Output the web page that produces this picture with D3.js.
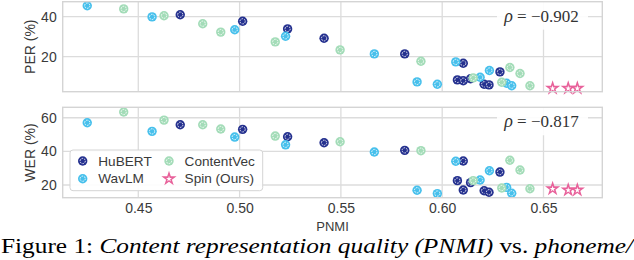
<!DOCTYPE html>
<html><head><meta charset="utf-8">
<script src="https://cdn.jsdelivr.net/npm/d3@7"></script>
<style>
html,body{margin:0;padding:0;background:#fff;}
svg{display:block;}
</style></head>
<body>
<svg id="chart" width="634" height="260"></svg>
<script>
// ---- data ----
const hubertPNMI = [0.4707, 0.5015, 0.5237, 0.5417, 0.5815, 0.6104, 0.6075, 0.6104, 0.6140, 0.6285, 0.6207, 0.6231];
const hubertPER  = [41.0, 37.7, 33.9, 29.2, 21.4, 16.7, 8.4, 8.0, 9.0, 12.4, 6.2, 5.9];
const hubertWER  = [55.8, 53.1, 48.7, 45.1, 40.6, 34.3, 22.6, 17.0, 21.4, 27.7, 16.6, 15.7];

const wavlmPNMI = [0.4248, 0.4568, 0.4976, 0.5227, 0.5665, 0.5876, 0.5976, 0.6067, 0.6187, 0.6233, 0.6318, 0.6343];
const wavlmPER  = [45.5, 39.9, 33.5, 30.2, 21.4, 7.4, 6.2, 17.4, 9.7, 13.1, 6.7, 5.5];
const wavlmWER  = [57.0, 51.9, 48.5, 43.9, 39.6, 16.9, 14.9, 34.1, 23.0, 28.5, 18.6, 15.1];

const contentvecPNMI = [0.4428, 0.4627, 0.4818, 0.4907, 0.5176, 0.5496, 0.5895, 0.6153, 0.6334, 0.6384, 0.6294, 0.6433];
const contentvecPER  = [43.9, 40.5, 36.5, 32.3, 27.4, 23.4, 17.7, 9.4, 14.6, 11.6, 7.2, 5.5];
const contentvecWER  = [63.4, 58.6, 55.8, 53.3, 49.1, 45.7, 40.4, 22.6, 34.7, 28.9, 18.2, 17.8];

const spinPNMI = [0.6545, 0.6622, 0.6667];
const spinPER  = [4.2, 4.2, 4.2];
const spinWER  = [17.8, 17.0, 17.0];

const xTicks = [0.45, 0.50, 0.55, 0.60, 0.65];
const perTicks = [20, 40];
const werTicks = [20, 40, 60];
const rhoLabels = ["\u2212", "0.902", "0.817"];

const seriesNames = ["HuBERT", "WavLM", "ContentVec", "Spin (Ours)"];
const seriesColors = ["#25318f", "#47c0ec", "#a3dcb8", "#e8619a"];

// ---- layout ----
const svg = d3.select("#chart");
const L = 62.7, R = 602.3;
const x = d3.scaleLinear().domain([0.41269, 0.67902]).range([L, R]);
const yTop = d3.scaleLinear().domain([2.5, 47.5]).range([91.7, 1.7]);
const yBot = d3.scaleLinear().domain([12.45, 66.2]).range([197.7, 107.3]);

const gridColor = "#dcdcdc";
const tickFont = "'Liberation Sans', Arial, sans-serif";

const series = [
  {name: seriesNames[0], color: seriesColors[0], px: hubertPNMI, per: hubertPER, wer: hubertWER, star: false},
  {name: seriesNames[1], color: seriesColors[1], px: wavlmPNMI, per: wavlmPER, wer: wavlmWER, star: false},
  {name: seriesNames[2], color: seriesColors[2], px: contentvecPNMI, per: contentvecPER, wer: contentvecWER, star: false},
  {name: seriesNames[3], color: seriesColors[3], px: spinPNMI, per: spinPER, wer: spinWER, star: true}
];

function drawMarker(g, cx, cy, s) {
  if (s.star) {
    const big = d3.symbol().type(d3.symbolStar).size(72)();
    const small = d3.symbol().type(d3.symbolStar).size(11)();
    g.append("path").attr("d", big).attr("transform", `translate(${cx},${cy})`).attr("fill", s.color);
    g.append("path").attr("d", small).attr("transform", `translate(${cx},${cy+0.2})`).attr("fill", "#fff");
  } else {
    g.append("circle").attr("cx", cx).attr("cy", cy).attr("r", 4.7).attr("fill", s.color);
    g.append("circle").attr("cx", cx).attr("cy", cy).attr("r", 2.6).attr("fill", "none")
      .attr("stroke", "#fff").attr("stroke-width", 0.9).attr("stroke-dasharray", "1.6,1.1");
  }
}

function panel(y, ticks, key, label, rho) {
  const g = svg.append("g");
  const [y0, y1] = y.range();
  // grid
  g.selectAll(".vg").data(xTicks).enter().append("line")
    .attr("x1", d => x(d)).attr("x2", d => x(d)).attr("y1", y1).attr("y2", y0)
    .attr("stroke", gridColor).attr("stroke-width", 1.3);
  g.selectAll(".hg").data(ticks).enter().append("line")
    .attr("x1", L).attr("x2", R).attr("y1", d => y(d)).attr("y2", d => y(d))
    .attr("stroke", gridColor).attr("stroke-width", 1.3);
  // y axis via d3 axis
  const ax = g.append("g").attr("transform", `translate(${L},0)`)
    .call(d3.axisLeft(y).tickValues(ticks).tickSize(0).tickPadding(6).tickFormat(d3.format("d")));
  ax.select(".domain").remove();
  ax.selectAll("text").attr("font-family", tickFont).attr("font-size", 14).attr("fill", "#3a3a3a");
  // y label
  g.append("text").attr("transform", `translate(30,${(y0 + y1) / 2}) rotate(-90)`)
    .attr("text-anchor", "middle").attr("dominant-baseline", "central")
    .attr("font-family", tickFont).attr("font-size", 14).attr("fill", "#3a3a3a").text(label);
  // points
  const pg = g.append("g");
  series.forEach(s => {
    s.px.forEach((v, i) => drawMarker(pg, x(v), y(s[key][i]), s));
  });
  // rho box
  const bx = 497, bw = 91;
  g.append("rect").attr("x", bx).attr("y", y1).attr("width", bw).attr("height", 28)
    .attr("fill", "#fff").attr("fill-opacity", 0.9);
  const t = g.append("text").attr("x", bx + bw / 2 - 1).attr("y", y1 + 14)
    .attr("text-anchor", "middle").attr("dominant-baseline", "central")
    .attr("font-family", "'Liberation Serif', serif").attr("font-size", 17).attr("fill", "#333");
  t.append("tspan").attr("font-style", "italic").attr("font-size", 18).text("\u03c1");
  t.append("tspan").text(" = " + rhoLabels[0] + rho);
  // frame
  g.append("rect").attr("x", L).attr("y", y1).attr("width", R - L).attr("height", y0 - y1)
    .attr("fill", "none").attr("stroke", "#d4d4d4").attr("stroke-width", 1.4);
  return g;
}

panel(yTop, perTicks, "per", "PER (%)", rhoLabels[1]);
panel(yBot, werTicks, "wer", "WER (%)", rhoLabels[2]);

// x axis
const xa = svg.append("g").attr("transform", `translate(0,${197.7})`)
  .call(d3.axisBottom(x).tickValues(xTicks).tickSize(0).tickPadding(5).tickFormat(d3.format(".2f")));
xa.select(".domain").remove();
xa.selectAll("text").attr("font-family", tickFont).attr("font-size", 14).attr("fill", "#3a3a3a");
svg.append("text").attr("x", (L + R) / 2).attr("y", 226).attr("text-anchor", "middle")
  .attr("dominant-baseline", "central").attr("font-family", tickFont).attr("font-size", 13).attr("fill", "#3a3a3a").text("PNMI");

// legend
const lg = svg.append("g");
lg.append("rect").attr("x", 70).attr("y", 150).attr("width", 192.7).attr("height", 40.7).attr("rx", 3)
  .attr("fill", "#fff").attr("fill-opacity", 0.92).attr("stroke", "#d4d4d4").attr("stroke-width", 1);
const legPos = [[82.7, 161], [82.7, 178.7], [169, 161], [169, 178.7]];
series.forEach((s, i) => {
  const [lx, ly] = legPos[i];
  drawMarker(lg, lx, ly, s);
  lg.append("text").attr("x", lx + 15.6).attr("y", ly).attr("dominant-baseline", "central")
    .attr("font-family", tickFont).attr("font-size", 13.6).attr("fill", "#3a3a3a").text(s.name);
});

// caption
const cap = svg.append("text").attr("x", 1).attr("y", 253)
  .attr("textLength", 632).attr("lengthAdjust", "spacingAndGlyphs")
  .attr("font-family", "'Liberation Serif', 'Times New Roman', serif").attr("font-size", 22).attr("fill", "#000");
cap.append("tspan").text("Figure 1: ");
cap.append("tspan").attr("font-style", "italic").text("Content representation quality (PNMI) ");
cap.append("tspan").text("vs. ");
cap.append("tspan").attr("font-style", "italic").text("phoneme/");
</script>
</body></html>
